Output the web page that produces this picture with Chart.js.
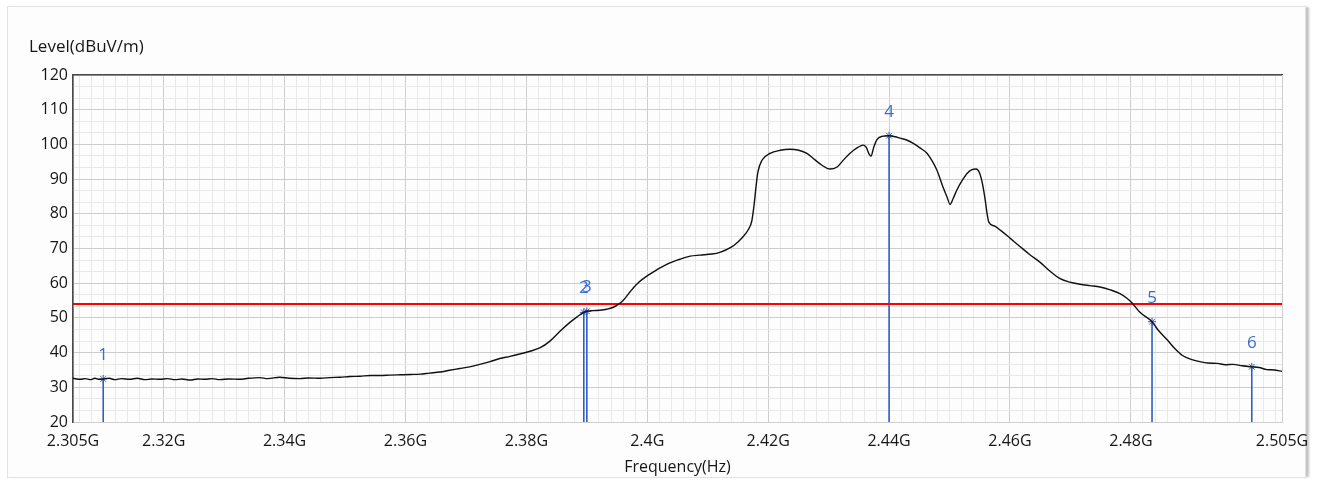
<!DOCTYPE html>
<html>
<head>
<meta charset="utf-8">
<title>Level vs Frequency</title>
<script src="https://cdn.jsdelivr.net/npm/chart.js@4/dist/chart.umd.min.js"></script>
<style>
  html, body { margin: 0; padding: 0; background: #ffffff; }
  body { width: 1319px; height: 480px; position: relative; overflow: hidden; }
  #panel {
    position: absolute; left: 7px; top: 6px; width: 1297px; height: 470px;
    background: #fdfdfd; border: 1px solid #e2e2e2;
    box-shadow: 4px 0 2px -1px #c4c4c4;
  }
  #wrap { position: absolute; left: 0; top: 0; width: 1319px; height: 480px; }
</style>
</head>
<body>
<div id="panel"></div>
<div id="wrap"><canvas id="c" width="1319" height="480"></canvas></div>
<script>
// Measured trace: frequency in MHz, level in dBuV/m
const freqMHz = [
  2305.0, 2306.2, 2307.0, 2308.0, 2308.6, 2309.4, 2310.0, 2311.0, 2311.9, 2313.0,
  2314.4, 2315.6, 2316.9, 2318.0, 2319.4, 2320.6, 2321.9, 2323.0, 2324.4, 2325.6,
  2326.8, 2328.0, 2329.3, 2330.8, 2332.6, 2334.0, 2335.9, 2337.2, 2339.2, 2340.8,
  2342.5, 2344.0, 2345.9, 2347.5, 2349.2, 2350.8, 2352.5, 2354.2, 2355.8, 2357.4,
  2359.1, 2360.8, 2362.4, 2364.0, 2365.7, 2367.3, 2369.0, 2370.6, 2372.3, 2374.0,
  2375.6, 2377.3, 2378.9, 2380.6, 2382.3, 2383.9, 2385.6, 2387.2, 2388.4, 2389.5,
  2390.0, 2391.0, 2392.2, 2393.3, 2394.3, 2395.2, 2396.0, 2397.1, 2398.3, 2400.5,
  2403.3, 2405.4, 2407.1, 2408.7, 2410.7, 2412.0, 2413.9, 2415.0, 2415.8, 2416.7,
  2417.3, 2417.7, 2418.0, 2418.3, 2419.0, 2420.3, 2422.0, 2423.6, 2424.9, 2426.4,
  2427.7, 2428.9, 2430.2, 2431.4, 2432.4, 2433.5, 2434.9, 2435.7, 2436.2, 2436.7,
  2437.0, 2437.5, 2438.0, 2438.8, 2440.0, 2441.0, 2441.8, 2443.0, 2444.0, 2445.1,
  2446.3, 2447.1, 2447.9, 2448.9, 2449.6, 2450.1, 2450.6, 2451.2, 2452.1, 2452.9,
  2453.7, 2454.4, 2455.0, 2455.5, 2455.9, 2456.2, 2456.5, 2457.4, 2458.4, 2460.0,
  2461.7, 2463.3, 2465.0, 2466.6, 2468.3, 2469.9, 2471.6, 2473.2, 2474.9, 2476.6,
  2478.2, 2479.4, 2480.2, 2481.5, 2483.5, 2484.5, 2486.0, 2487.3, 2488.6, 2490.1,
  2491.4, 2492.8, 2494.3, 2495.6, 2496.9, 2498.4, 2500.0, 2501.2, 2502.5, 2503.7,
  2505.0
];
const levelDb = [
  32.6, 32.3, 32.5, 32.2, 32.6, 32.3, 32.4, 32.6, 32.2, 32.5,
  32.3, 32.6, 32.2, 32.4, 32.3, 32.5, 32.2, 32.4, 32.1, 32.4,
  32.3, 32.5, 32.2, 32.4, 32.3, 32.6, 32.8, 32.5, 32.9, 32.6,
  32.5, 32.7, 32.6, 32.8, 32.9, 33.1, 33.2, 33.4, 33.4, 33.5,
  33.6, 33.7, 33.8, 34.1, 34.4, 34.9, 35.4, 35.9, 36.6, 37.4,
  38.3, 38.9, 39.6, 40.4, 41.4, 43.3, 46.2, 48.7, 50.3, 51.6,
  51.9, 52.1, 52.2, 52.5, 53.0, 53.9, 55.0, 57.4, 59.8, 62.7,
  65.5, 66.9, 67.8, 68.1, 68.4, 68.9, 70.4, 71.9, 73.3, 75.4,
  78.0, 83.0, 88.0, 92.0, 95.5, 97.4, 98.3, 98.6, 98.4, 97.4,
  95.6, 94.0, 92.9, 93.5, 95.4, 97.4, 99.2, 99.8, 99.2, 97.2,
  96.6, 99.4, 101.4, 102.3, 102.5, 102.2, 101.8, 101.2, 100.3, 99.0,
  97.4, 95.3, 92.6, 87.8, 84.8, 82.7, 84.4, 86.8, 89.6, 91.6,
  92.7, 92.9, 91.6, 88.2, 84.0, 80.2, 77.6, 76.5, 75.3, 73.0,
  70.5, 68.2, 66.0, 63.5, 61.3, 60.3, 59.7, 59.3, 58.9, 58.1,
  57.0, 55.6, 54.3, 51.6, 48.9, 46.5, 43.7, 41.1, 39.1, 38.0,
  37.4, 37.0, 36.9, 36.5, 36.6, 36.2, 35.9, 35.7, 35.1, 35.0,
  34.6
];

// Markers
const markerIds = ['1', '2', '3', '4', '5', '6'];
const markerFreqMHz = [2310.0, 2389.5, 2390.0, 2440.0, 2483.5, 2500.0];
const markerLevelDb = [32.4, 51.6, 51.9, 102.5, 48.9, 35.9];

// Limit line
const limitDb = 54;

// Axis ranges and tick labels
const freqMin = 2305, freqMax = 2505;
const levelMin = 20, levelMax = 120;
const freqTicksMHz = [2305, 2320, 2340, 2360, 2380, 2400, 2420, 2440, 2460, 2480, 2505];
const yTitle = 'Level(dBuV/m)';
const xTitle = 'Frequency(Hz)';

const FONT = '"Open Sans", "Noto Sans", sans-serif';
const TEXT = '#161616';
const MARK_BLUE = '#2e5fc4';
const LABEL_BLUE = '#3a6bd2';

const traceData = freqMHz.map((f, i) => ({ x: f, y: levelDb[i] }));

const markerSets = markerFreqMHz.map((f, i) => ({
  label: 'M' + markerIds[i],
  data: [{ x: f, y: levelMin }, { x: f, y: markerLevelDb[i] }],
  borderColor: MARK_BLUE,
  borderWidth: 1.6,
  pointRadius: [0, 4],
  pointStyle: 'star',
  pointBorderColor: MARK_BLUE,
  pointBorderWidth: 1,
  pointBackgroundColor: MARK_BLUE,
  order: 3
}));

const markerLabels = {
  id: 'markerLabels',
  afterDatasetsDraw(chart) {
    const { ctx, scales } = chart;
    ctx.save();
    ctx.font = '17px ' + FONT;
    ctx.fillStyle = LABEL_BLUE;
    ctx.textAlign = 'center';
    ctx.textBaseline = 'middle';
    markerIds.forEach((id, i) => {
      const px = scales.x.getPixelForValue(markerFreqMHz[i]);
      const py = scales.y.getPixelForValue(markerLevelDb[i]);
      ctx.fillText(id, px, py - 24);
    });
    ctx.restore();
  }
};

const levelTitle = {
  id: 'levelTitle',
  afterDraw(chart) {
    const { ctx } = chart;
    ctx.save();
    ctx.font = '17px ' + FONT;
    ctx.fillStyle = TEXT;
    ctx.textAlign = 'left';
    ctx.textBaseline = 'middle';
    ctx.fillText(yTitle, 29, 47);
    ctx.restore();
  }
};

function fmtG(v) {
  return (v / 1000).toString() + 'G';
}

new Chart(document.getElementById('c'), {
  type: 'line',
  data: {
    datasets: [
      {
        label: 'Trace',
        data: traceData,
        borderColor: '#111111',
        borderWidth: 1.4,
        pointRadius: 0,
        cubicInterpolationMode: 'monotone',
        order: 1
      },
      {
        label: 'Limit',
        data: [{ x: freqMin, y: limitDb }, { x: freqMax, y: limitDb }],
        borderColor: '#ff0000',
        borderWidth: 2.2,
        pointRadius: 0,
        order: 2
      },
      ...markerSets
    ]
  },
  options: {
    responsive: false,
    animation: false,
    layout: { padding: { top: 75, right: 37, bottom: 0, left: 0 } },
    plugins: { legend: { display: false }, tooltip: { enabled: false } },
    scales: {
      x: {
        type: 'linear',
        position: 'bottom',
        min: freqMin,
        max: freqMax,
        afterBuildTicks(scale) { scale.ticks = freqTicksMHz.map(v => ({ value: v })); },
        afterFit(scale) { scale.height = 58; },
        ticks: {
          autoSkip: false,
          maxRotation: 0,
          padding: 10,
          color: TEXT,
          font: { family: FONT, size: 16 },
          callback: v => fmtG(v)
        },
        grid: { color: '#cdcdcd', lineWidth: 1, drawTicks: false },
        border: { color: '#cfcfcf', width: 1 },
        title: {
          display: true,
          text: xTitle,
          color: TEXT,
          font: { family: FONT, size: 16 },
          padding: { top: 0, bottom: 3 }
        }
      },
      xMinor: {
        type: 'linear',
        position: 'top',
        min: freqMin,
        max: freqMax,
        afterBuildTicks(scale) {
          const t = [];
          for (let v = 2306; v < freqMax; v += 2) t.push({ value: v });
          scale.ticks = t;
        },
        afterFit(scale) { scale.height = 0; },
        ticks: { display: false },
        grid: {
          drawTicks: false,
          color: ctx => (ctx.tick && ctx.tick.value % 20 === 0) ? 'rgba(0,0,0,0)' : '#e9e9e9'
        },
        border: { color: '#4a4a4a', width: 1.6 }
      },
      y: {
        type: 'linear',
        position: 'left',
        min: levelMin,
        max: levelMax,
        afterFit(scale) { scale.width = 73; },
        ticks: {
          stepSize: 10,
          padding: 5,
          color: TEXT,
          font: { family: FONT, size: 16 }
        },
        grid: { color: '#cdcdcd', lineWidth: 1, drawTicks: false },
        border: { color: '#4a4a4a', width: 1.6 }
      },
      yMinor: {
        type: 'linear',
        position: 'right',
        min: levelMin,
        max: levelMax,
        afterBuildTicks(scale) {
          const t = [];
          for (let k = 1; k < 30; k++) {
            if (k % 3 !== 0) t.push({ value: levelMin + k * 10 / 3 });
          }
          scale.ticks = t;
        },
        afterFit(scale) { scale.width = 0; },
        ticks: { display: false },
        grid: { drawTicks: false, color: '#e9e9e9' },
        border: { color: '#cfcfcf', width: 1 }
      }
    }
  },
  plugins: [markerLabels, levelTitle]
});
</script>
</body>
</html>
